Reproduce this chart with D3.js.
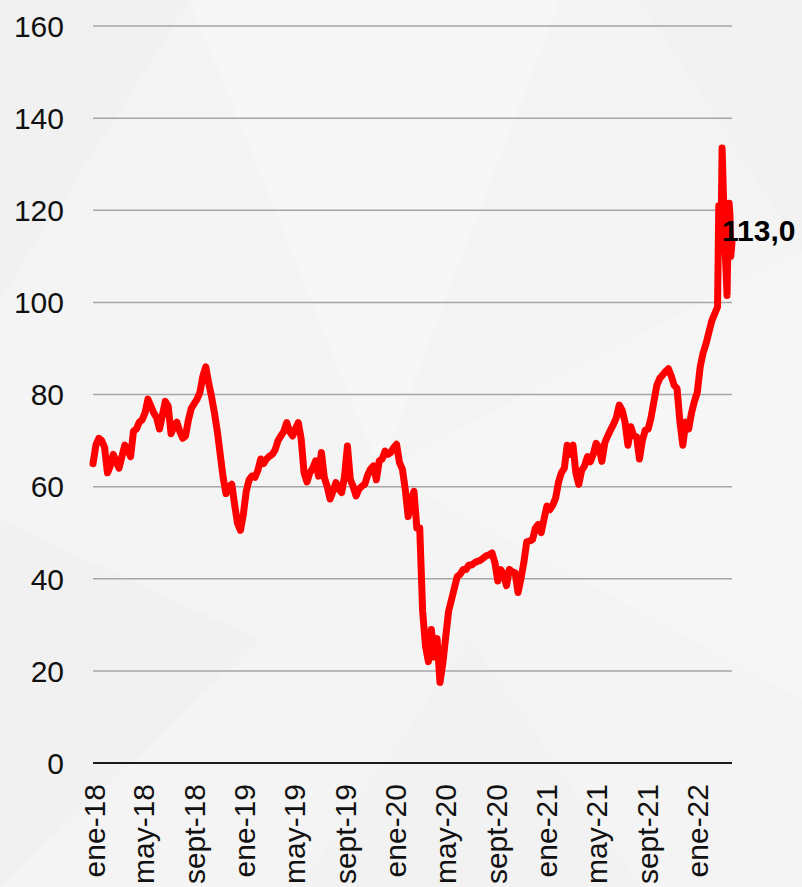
<!DOCTYPE html>
<html>
<head>
<meta charset="utf-8">
<script src="https://cdn.jsdelivr.net/npm/d3@7"></script>
<style>
  body { margin: 0; background: #f4f4f4; }
  svg { display: block; }
  text { font-family: "Liberation Sans", Arial, sans-serif; }
</style>
</head>
<body>
<div id="chart"></div>
<script>
// Weekly values, first week starts 2018-01-01
const startDate = "2018-01-01";
const weeklyValues = [
  65, 69, 70.5, 70, 68.5, 63, 64.5, 67, 65.5, 64,
  66.5, 69, 68, 66.5, 72, 72.5, 74, 74.5, 76, 79,
  77.5, 76, 75, 72.5, 75.5, 78.5, 77.5, 71.5, 73, 74,
  72, 70.5, 71, 74.5, 77, 78, 79, 80.5, 84, 86,
  82.5, 79.5, 76, 72, 67, 62, 58.5, 60, 60.5, 56,
  52, 50.5, 54, 59, 61.5,
  62.3, 62, 63.5, 66, 65, 66, 66.6, 67, 68, 70,
  71, 72, 73.9, 72, 71, 72.5, 73.9, 70.3, 63, 61,
  63, 64, 65.6, 62.3, 67.4, 62, 60, 57.3, 59, 60.9,
  59.5, 58.7, 62.3, 68.8, 61.5, 60, 58, 59.5, 60.1, 60.5,
  62.5, 63.8, 64.5, 61.5, 65.6, 66, 67.7, 67, 67.4, 68.5,
  69.2, 65.2, 63.8, 59.4, 53.5,
  57, 59, 51, 51, 33, 25.3, 22, 29, 23, 27,
  17.5, 21.7, 27.5, 33, 35.5, 38, 40.5, 41, 42, 42,
  43, 43, 43.5, 43.8, 44, 44.5, 45, 45.2, 45.6, 43.5,
  39.5, 42, 41, 38.5, 42, 41.5, 41.3, 37, 40, 43.5,
  48, 48.2, 48.5, 51, 51.8, 50, 53, 55.8, 55, 56,
  57.5, 61, 63, 64, 69,
  67, 69, 63, 60.5, 63.5, 64.5, 66.5, 65.4, 67, 69.4,
  68.5, 65.5, 69.5, 71, 72.3, 73.5, 75, 77.7, 76.6, 74,
  69, 73, 71, 70.8, 66, 70, 72.3, 72.5, 75, 78.5,
  82, 83.5, 84.2, 85, 85.6, 84, 82, 81.3, 74, 69,
  74, 72.5, 76, 78.5, 80.5, 86, 89, 91, 93.5, 96,
  97.5, 99
];

// Daily detail for the March 2022 spike
const finalDates = [
  "2022-02-24", "2022-02-28", "2022-03-02", "2022-03-04", "2022-03-08",
  "2022-03-10", "2022-03-14", "2022-03-16", "2022-03-18", "2022-03-21",
  "2022-03-23", "2022-03-25", "2022-03-28"
];
const finalValues = [121, 112, 118, 133.5, 121, 114, 106, 101.5, 112, 121.5, 119, 110, 113];

const tickDates = [
  "2018-01-01", "2018-05-01", "2018-09-01", "2019-01-01", "2019-05-01", "2019-09-01",
  "2020-01-01", "2020-05-01", "2020-09-01", "2021-01-01", "2021-05-01", "2021-09-01",
  "2022-01-01"
];
const tickLabels = [
  "ene-18", "may-18", "sept-18", "ene-19", "may-19", "sept-19",
  "ene-20", "may-20", "sept-20", "ene-21", "may-21", "sept-21",
  "ene-22"
];
const yTicks = [0, 20, 40, 60, 80, 100, 120, 140, 160];
const lastLabel = "113,0";

const W = 802, H = 887;
const parse = d3.timeParse("%Y-%m-%d");
const start = parse(startDate);

const data = weeklyValues.map((v, i) => ({ date: d3.timeDay.offset(start, 7 * i), value: v }))
  .concat(finalDates.map((d, i) => ({ date: parse(d), value: finalValues[i] })));

const svg = d3.select("#chart").append("svg")
  .attr("width", W)
  .attr("height", H);

// soft background shapes
svg.append("rect").attr("width", W).attr("height", H).attr("fill", "#f4f4f4");
const bgShapes = [
  { pts: [[0, 0], [190, 0], [0, 300]], fill: "#ededed", op: 0.5 },
  { pts: [[190, 0], [560, 0], [380, 470]], fill: "#f8f8f8", op: 0.6 },
  { pts: [[0, 520], [260, 640], [0, 887]], fill: "#eeeeee", op: 0.5 },
  { pts: [[380, 470], [802, 250], [802, 700]], fill: "#f7f7f7", op: 0.6 },
  { pts: [[300, 887], [470, 640], [640, 887]], fill: "#f0f0f0", op: 0.5 },
  { pts: [[640, 0], [802, 0], [802, 250]], fill: "#efefef", op: 0.4 }
];
svg.append("g").selectAll("polygon")
  .data(bgShapes)
  .join("polygon")
  .attr("points", d => d.pts.map(p => p.join(",")).join(" "))
  .attr("fill", d => d.fill)
  .attr("opacity", d => d.op);

const x = d3.scaleTime()
  .domain([parse("2018-01-01"), parse("2022-03-28")])
  .range([93, 732]);

const y = d3.scaleLinear()
  .domain([0, 160])
  .range([763, 26]);

// Gridlines
svg.append("g")
  .selectAll("line")
  .data(yTicks.filter(d => d > 0))
  .join("line")
  .attr("x1", 93)
  .attr("x2", 732)
  .attr("y1", d => y(d))
  .attr("y2", d => y(d))
  .attr("stroke", "#a6a6a6")
  .attr("stroke-width", 1.5);

// Y labels
svg.append("g")
  .selectAll("text")
  .data(yTicks)
  .join("text")
  .attr("x", 64)
  .attr("y", d => y(d))
  .attr("dy", "0.36em")
  .attr("text-anchor", "end")
  .style("font-size", "30px")
  .style("fill", "#111")
  .text(d => d);

// X axis line
svg.append("line")
  .attr("x1", 93)
  .attr("x2", 732)
  .attr("y1", y(0))
  .attr("y2", y(0))
  .attr("stroke", "#1a1a1a")
  .attr("stroke-width", 2);

// X labels (rotated)
svg.append("g")
  .selectAll("text")
  .data(tickDates)
  .join("text")
  .attr("transform", d => `translate(${x(parse(d)) + 1},${y(0) + 21}) rotate(-90)`)
  .attr("dy", "0.35em")
  .attr("text-anchor", "end")
  .style("font-size", "30px")
  .style("fill", "#111")
  .text((d, i) => tickLabels[i]);

// Line
const line = d3.line()
  .x(d => x(d.date))
  .y(d => y(d.value));

svg.append("path")
  .datum(data)
  .attr("fill", "none")
  .attr("stroke", "#ff0000")
  .attr("stroke-width", 7)
  .attr("stroke-linejoin", "round")
  .attr("stroke-linecap", "round")
  .attr("d", line);

// Last value label
const last = data[data.length - 1];
svg.append("text")
  .attr("x", x(last.date) - 10)
  .attr("y", y(last.value) - 1)
  .style("font-size", "30px")
  .style("font-weight", "bold")
  .style("fill", "#000")
  .text(lastLabel);
</script>
</body>
</html>
